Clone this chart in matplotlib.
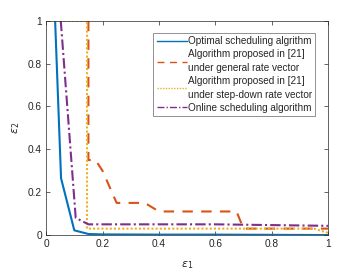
import matplotlib
matplotlib.use('Agg')
import matplotlib.pyplot as plt

# optimal scheduling
opt_x = [0.032, 0.053, 0.1, 0.15, 0.2, 0.4, 0.6, 0.8, 1.0]
opt_y = [1.0, 0.265, 0.022, 0.005, 0.003, 0.002, 0.002, 0.001, 0.0]
# algorithm [21], general rate vector
gen_x = [0.15, 0.15, 0.175, 0.2, 0.25, 0.35, 0.4, 0.675, 0.7, 1.0]
gen_y = [1.0, 0.35, 0.35, 0.3, 0.15, 0.15, 0.11, 0.11, 0.03, 0.03]
# algorithm [21], step-down rate vector
step_x = [0.032, 0.145, 0.145, 0.95, 1.0]
step_y = [1.0, 1.0, 0.03, 0.03, 0.01]
# online scheduling
onl_x = [0.052, 0.105, 0.15, 0.6, 1.0]
onl_y = [1.0, 0.08, 0.05, 0.05, 0.043]

labels = ['Optimal scheduling algrithm',
          'Algorithm proposed in [21]\nunder general rate vector',
          'Algorithm proposed in [21]\nunder step-down rate vector',
          'Online scheduling algorithm']

plt.rcParams['font.family'] = ['Liberation Sans', 'DejaVu Sans']
plt.rcParams['mathtext.fontset'] = 'dejavusans'

fig = plt.figure(figsize=(3.63, 2.73), dpi=100)
ax = fig.add_axes([0.127, 0.139, 0.777, 0.785])

ax.plot(opt_x, opt_y, color='#0072BD', lw=1.5, label=labels[0])
ax.plot(gen_x, gen_y, color='#D95319', lw=1.5, ls=(0, (5, 4)), label=labels[1])
ax.plot(step_x, step_y, color='#EDB120', lw=1.5, ls=(0, (1, 1)), label=labels[2])
ax.plot(onl_x, onl_y, color='#7E2F8E', lw=1.5, ls=(0, (5, 1.5, 1, 1.5)), label=labels[3])

ax.set_xlim(0, 1)
ax.set_ylim(0, 1)
ax.set_xticks([0, 0.2, 0.4, 0.6, 0.8, 1])
ax.set_xticklabels(['0', '0.2', '0.4', '0.6', '0.8', '1'])
ax.set_yticks([0, 0.2, 0.4, 0.6, 0.8, 1])
ax.set_yticklabels(['0', '0.2', '0.4', '0.6', '0.8', '1'])
ax.tick_params(direction='in', top=True, right=True, length=3, width=0.5,
               labelsize=7.3, colors='#262626', pad=3)
for s in ax.spines.values():
    s.set_linewidth(0.5)
    s.set_color('#262626')

ax.set_xlabel(r'$\epsilon_1$', fontsize=8, color='#262626', labelpad=7)
ax.set_ylabel(r'$\epsilon_2$', fontsize=8, color='#262626', labelpad=4)

leg = ax.legend(loc='upper right', bbox_to_anchor=(0.954, 0.943), borderaxespad=0,
                fontsize=7.2, fancybox=False, framealpha=1, edgecolor='#808080',
                handlelength=3.0, handletextpad=0.1, borderpad=0.35,
                labelspacing=0.3)
leg.get_frame().set_linewidth(0.6)
for line in leg.get_lines():
    line.set_linewidth(1.0)
for t in leg.get_texts():
    t.set_color('#262626')
    t.set_linespacing(1.45)

fig.savefig('out.png', dpi=100)
